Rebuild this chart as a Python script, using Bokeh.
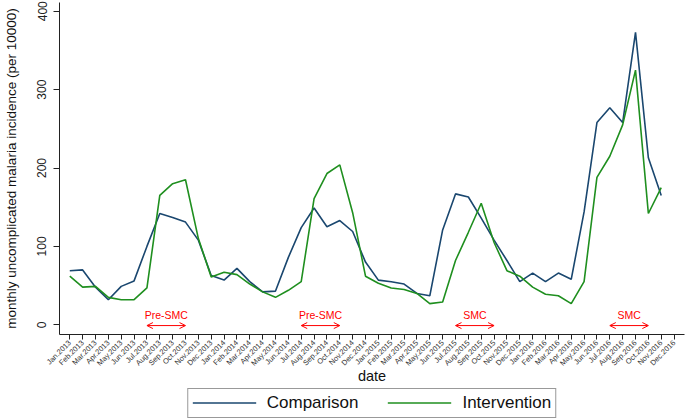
import math
from bokeh.plotting import figure
from bokeh.layouts import column
from bokeh.models import (Range1d, FixedTicker, Legend, LegendItem, Arrow, OpenHead,
                          ColumnDataSource)
from bokeh.core.properties import value
from bokeh.embed import file_html
from bokeh.resources import INLINE

# ---------------- data ----------------
month_names = ["Jan", "Feb", "Mar", "Apr", "May", "Jun",
               "Jul", "Aug", "Sep", "Oct", "Nov", "Dec"]
years = [2013, 2014, 2015, 2016]
months = [f"{m}.{y}" for y in years for m in month_names]   # tick labels Jan.2013 .. Dec.2016

comparison = [
    69, 70, 48, 32, 49, 56, 100, 142, 137, 131, 108, 63,    # 2013
    57, 72, 55, 42, 43, 86, 124, 149, 125, 133, 119, 80,    # 2014
    57, 55, 52, 40, 37, 121, 167, 163, 136, 108, 82, 55,    # 2015
    66, 55, 66, 58, 144, 258, 277, 258, 373, 213, 165,      # 2016 (Jan-Nov)
]
intervention = [
    62, 48, 49, 35, 32, 32, 47, 165, 180, 185, 110, 61,     # 2013
    67, 64, 52, 42, 35, 44, 55, 161, 193, 204, 143, 62,     # 2014
    53, 47, 45, 40, 27, 29, 82, 118, 155, 105, 69, 62,      # 2015
    48, 39, 37, 27, 55, 188, 215, 255, 325, 142, 175,       # 2016 (Jan-Nov)
]
series_names = ["Comparison", "Intervention"]
period_labels = ["Pre-SMC", "Pre-SMC", "SMC", "SMC"]
period_start = ["Jul.2013", "Jul.2014", "Jul.2015", "Jul.2016"]
period_end = ["Oct.2013", "Oct.2014", "Oct.2015", "Oct.2016"]
y_ticks = [0, 100, 200, 300, 400]

# ---------------- styles ----------------
FONT = "Liberation Sans"
BLUE = "#1a476f"
GREEN = "#1f8f1f"
RED = "#ff0000"
AXIS = "#222222"
X_RANGE = (-0.80, 47.81)

p = figure(width=685, height=386, output_backend="svg", toolbar_location=None,
           x_range=Range1d(*X_RANGE), y_range=Range1d(-12.4, 411.2),
           min_border_left=58, min_border_right=1, min_border_top=2, min_border_bottom=52)
p.background_fill_color = "white"
p.border_fill_color = "white"
p.outline_line_color = None
p.xgrid.visible = False
p.ygrid.visible = False

xs = list(range(len(comparison)))
p.line(xs, comparison, line_color=BLUE, line_width=1.6)
p.line(xs, intervention, line_color=GREEN, line_width=1.6)

# SMC period annotations
x0 = [months.index(m) for m in period_start]
x1 = [months.index(m) for m in period_end]
arrow_src = ColumnDataSource(dict(x0=x0, x1=x1, y=[-1] * len(x0)))
p.add_layout(Arrow(start=OpenHead(size=6, line_color=RED, line_width=1),
                   end=OpenHead(size=6, line_color=RED, line_width=1),
                   x_start="x0", y_start="y", x_end="x1", y_end="y",
                   line_color=RED, line_width=1, source=arrow_src))
p.text(x=[(a + b) / 2 for a, b in zip(x0, x1)], y=[12] * len(x0), text=period_labels,
       text_font=value(FONT), text_font_size="10.5px", text_color=RED,
       text_align="center", text_baseline="middle")

# x axis
xa = p.xaxis[0]
xa.ticker = FixedTicker(ticks=list(range(len(months))))
xa.major_label_overrides = {i: m for i, m in enumerate(months)}
xa.major_label_orientation = math.pi / 4
xa.major_label_text_font = FONT
xa.major_label_text_font_size = "7.5px"
xa.major_label_text_color = "#333333"
xa.major_label_standoff = 2
xa.major_tick_out = 5
xa.major_tick_in = 0
xa.minor_tick_out = 0
xa.minor_tick_in = 0
xa.axis_line_color = AXIS
xa.major_tick_line_color = AXIS
xa.axis_label = "date"
xa.axis_label_text_font = FONT
xa.axis_label_text_font_size = "14.5px"
xa.axis_label_text_font_style = "normal"
xa.axis_label_text_color = "#111111"
xa.axis_label_standoff = -6

# y axis
ya = p.yaxis[0]
ya.ticker = FixedTicker(ticks=y_ticks)
ya.major_label_orientation = "vertical"
ya.major_label_text_font = FONT
ya.major_label_text_font_size = "12px"
ya.major_label_text_color = AXIS
ya.major_label_standoff = 7
ya.major_tick_out = 6
ya.major_tick_in = 0
ya.minor_tick_out = 0
ya.minor_tick_in = 0
ya.axis_line_color = AXIS
ya.major_tick_line_color = AXIS
ya.axis_label = "monthly uncomplicated malaria incidence (per 10000)"
ya.axis_label_text_font = FONT
ya.axis_label_text_font_size = "13.5px"
ya.axis_label_text_font_style = "normal"
ya.axis_label_text_color = "#111111"
ya.axis_label_standoff = 16

# ---------------- legend strip under the chart ----------------
pl = figure(width=685, height=33, output_backend="svg", toolbar_location=None,
            x_range=Range1d(*X_RANGE), y_range=Range1d(1000, 1001),
            x_axis_location=None, y_axis_location=None,
            min_border_left=58, min_border_right=1, min_border_top=0, min_border_bottom=0)
pl.outline_line_color = None
pl.xgrid.visible = False
pl.ygrid.visible = False
pl.background_fill_color = "white"
pl.border_fill_color = "white"
# same series (outside this strip's visible range) so the legend keys carry their styles
k1 = pl.line(xs, comparison, line_color=BLUE, line_width=1.6)
k2 = pl.line(xs, intervention, line_color=GREEN, line_width=1.6)
legend = Legend(items=[LegendItem(label=series_names[0], renderers=[k1]),
                       LegendItem(label=series_names[1], renderers=[k2])],
                orientation="horizontal", location="center")
legend.label_text_font = FONT
legend.label_text_font_size = "17px"
legend.label_text_color = "#111111"
legend.glyph_width = 64
legend.glyph_height = 19
legend.label_height = 19
legend.label_standoff = 11
legend.spacing = 29
legend.padding = 4
legend.margin = 0
legend.border_line_color = "#333333"
legend.border_line_width = 1
legend.background_fill_color = "white"
pl.add_layout(legend, "center")

layout = column(p, pl, spacing=0)
open("out.html", "w").write(file_html(layout, INLINE))
